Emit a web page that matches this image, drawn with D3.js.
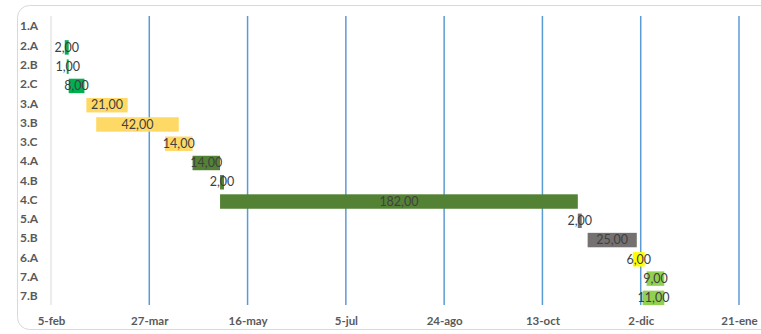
<!DOCTYPE html>
<html>
<head>
<meta charset="utf-8">
<script src="https://cdn.jsdelivr.net/npm/d3@7"></script>
<style>
	body { margin: 0; background: #fff; }
	svg { display: block; font-family: Lato, 'Open Sans', sans-serif; }
</style>
</head>
<body>
<svg width="761" height="334"></svg>
<script>
// gantt de tareas

// data
var categories = ['1.A', '2.A', '2.B', '2.C', '3.A', '3.B', '3.C', '4.A', '4.B', '4.C', '5.A', '5.B', '6.A', '7.A', '7.B'];
var startDates = [null, '2019-02-12', '2019-02-13', '2019-02-14', '2019-02-23', '2019-02-28', '2019-04-04', '2019-04-18', '2019-05-02', '2019-05-02', '2019-10-31', '2019-11-05', '2019-11-28', '2019-12-05', '2019-12-03'];
var durations = [null, 2, 1, 8, 21, 42, 14, 14, 2, 182, 2, 25, 6, 9, 11];
var barColors = [null, '#00b050', '#00b050', '#00b050', '#ffd966', '#ffd966', '#ffd966', '#548235', '#548235', '#548235', '#767171', '#767171', '#ffff00', '#92d050', '#92d050'];
var tickDates = ['2019-02-05', '2019-03-27', '2019-05-16', '2019-07-05', '2019-08-24', '2019-10-13', '2019-12-02', '2020-01-21'];

var parse = d3.timeParse('%Y-%m-%d');
var es = d3.timeFormatLocale({
	dateTime: '%d/%m/%Y', date: '%d/%m/%Y', time: '%H:%M:%S', periods: ['AM', 'PM'],
	days: ['domingo', 'lunes', 'martes', 'miércoles', 'jueves', 'viernes', 'sábado'],
	shortDays: ['dom', 'lun', 'mar', 'mié', 'jue', 'vie', 'sáb'],
	months: ['enero', 'febrero', 'marzo', 'abril', 'mayo', 'junio', 'julio', 'agosto', 'septiembre', 'octubre', 'noviembre', 'diciembre'],
	shortMonths: ['ene', 'feb', 'mar', 'abr', 'may', 'jun', 'jul', 'ago', 'sep', 'oct', 'nov', 'dic']
});
var fmt = es.format('%-d-%b');

var tasks = categories.map(function(c, i) {
	var s = startDates[i] ? parse(startDates[i]) : null;
	return {
		cat: c,
		start: s,
		end: s ? d3.timeDay.offset(s, durations[i]) : null,
		dur: durations[i],
		color: barColors[i]
	};
}).filter(function(d) { return d.start; });

var ticks = tickDates.map(parse);

var svg = d3.select('svg');

// chart border
svg.append('rect')
	.attr('x', 17.5).attr('y', 5.5)
	.attr('width', 760).attr('height', 324)
	.attr('rx', 12)
	.attr('fill', 'none')
	.attr('stroke', '#d9d9d9');

var x = d3.scaleTime().domain([ ticks[0], ticks[ticks.length - 1] ]).range([ 51, 739 ]);
var y = d3.scaleBand().domain(categories).range([ 18.5, 307.5 ]).paddingInner(0.25).paddingOuter(0.125);

// gridlines
svg.append('g')
	.selectAll('line')
	.data(ticks.slice(1))
	.enter()
	.append('line')
	.attr('x1', function(d) { return x(d); })
	.attr('x2', function(d) { return x(d); })
	.attr('y1', 16)
	.attr('y2', 305)
	.attr('stroke', '#5b9bd5')
	.attr('stroke-width', 1.5);

// axis line
svg.append('line')
	.attr('x1', x(ticks[0])).attr('x2', x(ticks[0]))
	.attr('y1', 16).attr('y2', 305)
	.attr('stroke', '#d9d9d9')
	.attr('stroke-width', 1);

// x axis
var xAxis = svg.append('g')
	.attr('transform', 'translate(0,' + 305 + ')')
	.call(d3.axisBottom(x).tickValues(ticks).tickFormat(fmt).tickSize(0).tickPadding(12));
xAxis.select('.domain').remove();
xAxis.selectAll('text')
	.attr('fill', '#595959')
	.style('font-size', '11.5px')
	.style('font-weight', 'bold')
	.style('font-family', 'Lato, sans-serif');

// y axis
var yAxis = svg.append('g')
	.attr('transform', 'translate(20,-1.5)')
	.call(d3.axisLeft(y).tickSize(0).tickPadding(0));
yAxis.select('.domain').remove();
yAxis.selectAll('text')
	.attr('text-anchor', 'start')
	.attr('fill', '#595959')
	.style('font-size', '12px')
	.style('font-weight', 'bold')
	.style('font-family', 'Lato, sans-serif');

// bars
svg.append('g')
	.selectAll('rect')
	.data(tasks)
	.enter()
	.append('rect')
	.attr('x', function(d) { return x(d.start); })
	.attr('y', function(d) { return y(d.cat); })
	.attr('width', function(d) { return x(d.end) - x(d.start); })
	.attr('height', y.bandwidth())
	.attr('fill', function(d) { return d.color; });

// labels
svg.append('g')
	.selectAll('text')
	.data(tasks)
	.enter()
	.append('text')
	.attr('x', function(d) { return (x(d.start) + x(d.end)) / 2; })
	.attr('y', function(d) { return y(d.cat) + y.bandwidth() / 2 + 1; })
	.attr('text-anchor', 'middle')
	.attr('dominant-baseline', 'middle')
	.attr('fill', '#404040')
	.style('font-size', '12.5px')
	.text(function(d) { return d.dur.toFixed(2).replace('.', ','); });
</script>
</body>
</html>
